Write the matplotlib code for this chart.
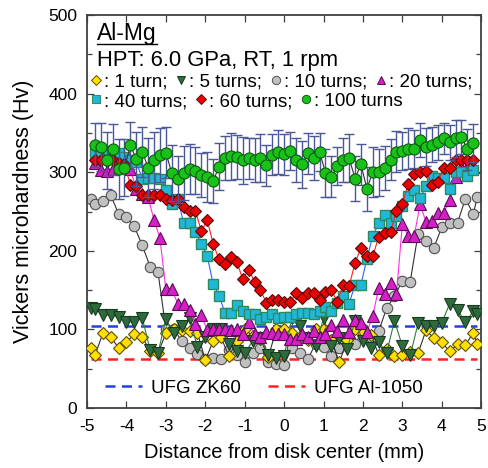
import numpy as np
import matplotlib
matplotlib.use("Agg")
import matplotlib.pyplot as plt
from matplotlib.lines import Line2D

plt.rcParams['font.family'] = ['Liberation Sans', 'DejaVu Sans']
plt.rcParams['axes.unicode_minus'] = False

# Distancias de medida (mm): series largas cada 0.15 mm, series cortas cada 0.2 mm
x_fast = [-4.8, -4.65, -4.5, -4.35, -4.2, -4.05, -3.9, -3.75, -3.6, -3.45,
          -3.3, -3.15, -3.0, -2.85, -2.7, -2.55, -2.4, -2.25, -2.1, -1.95,
          -1.8, -1.65, -1.5, -1.35, -1.2, -1.05, -0.9, -0.75, -0.6, -0.45,
          -0.3, -0.15, 0.0, 0.15, 0.3, 0.45, 0.6, 0.75, 0.9, 1.05,
          1.2, 1.35, 1.5, 1.65, 1.8, 1.95, 2.1, 2.25, 2.4, 2.55,
          2.7, 2.85, 3.0, 3.15, 3.3, 3.45, 3.6, 3.75, 3.9, 4.05,
          4.2, 4.35, 4.5, 4.65, 4.8]
x_slow = [-4.9, -4.8, -4.6, -4.4, -4.2, -4.0, -3.8, -3.6, -3.4, -3.2,
          -3.0, -2.8, -2.6, -2.4, -2.2, -2.0, -1.8, -1.6, -1.4, -1.2,
          -1.0, -0.8, -0.6, -0.4, -0.2, 0.0, 0.2, 0.4, 0.6, 0.8,
          1.0, 1.2, 1.4, 1.6, 1.8, 2.0, 2.2, 2.4, 2.6, 2.8,
          3.0, 3.2, 3.4, 3.6, 3.8, 4.0, 4.2, 4.4, 4.6, 4.8, 4.9]

# Dureza Vickers (Hv)
hv_1 = [76, 67, 95, 90, 77, 84, 94, 91, 72, 70,
        95, 100, 99, 98, 96, 61, 85, 90, 66, 85,
        100, 92, 88, 65, 100, 101, 95, 90, 87, 101,
        100, 87, 58, 87, 101, 95, 93, 68, 75, 66,
        67, 71, 70, 99, 89, 84, 72, 81, 80, 96, 82]
hv_5 = [127, 126, 119, 118, 116, 110, 110, 115, 74, 70,
        113, 95, 104, 115, 78, 90, 100, 100, 81, 73,
        70, 85, 89, 68, 64, 66, 115, 104, 89, 79,
        114, 79, 89, 75, 111, 85, 77, 84, 70, 111,
        79, 67, 108, 104, 104, 108, 133, 125, 109, 123, 120]
hv_10 = [266, 260, 263, 271, 247, 243, 231, 207, 180, 173,
         101, 101, 85, 77, 69, 63, 64, 62, 74, 67,
         58, 70, 76, 58, 56, 55, 77, 70, 62, 82,
         78, 66, 76, 85, 81, 100, 90, 98, 127, 142,
         162, 161, 222, 213, 204, 230, 236, 236, 266, 247, 268]
hv_20 = [312, 303, 301, 304, 307, 307, 304, 279, 272, 268,
         239, 216, 151, 151, 133, 133, 125, 107, 118, 99,
         100, 100, 100, 99, 100, 94, 109, 94, 91, 97,
         96, 94, 94, 88, 88, 94, 90, 98, 90, 94,
         106, 98, 112, 97, 112, 108, 97, 117, 153, 145,
         159, 145, 234, 219, 219, 259, 237, 238, 248, 248,
         265, 294, 307, 307, 307]
hv_40 = [325, 324, 327, 326, 324, 319, 316, 313, 292, 293,
         293, 291, 277, 260, 266, 236, 236, 224, 209, 193,
         158, 143, 121, 121, 131, 123, 120, 120, 113, 116,
         120, 115, 116, 116, 120, 121, 121, 120, 124, 128,
         124, 134, 143, 133, 157, 157, 190, 219, 235, 246,
         235, 244, 257, 270, 277, 267, 282, 295, 293, 293,
         279, 300, 300, 295, 303]
hv_60 = [315, 316, 314, 316, 312, 310, 284, 283, 271, 271,
         271, 271, 266, 265, 266, 256, 251, 251, 225, 239,
         209, 189, 183, 192, 186, 164, 176, 161, 150, 134,
         138, 138, 135, 135, 146, 140, 146, 146, 137, 148,
         150, 135, 157, 155, 185, 204, 193, 193, 218, 223,
         224, 251, 260, 285, 298, 300, 302, 284, 287, 306,
         306, 315, 315, 315, 315]
hv_100 = [335, 332, 315, 329, 304, 306, 334, 317, 326, 306,
          315, 322, 325, 299, 291, 299, 304, 302, 297, 294,
          289, 307, 318, 320, 319, 315, 318, 315, 318, 309,
          322, 326, 323, 327, 315, 310, 324, 318, 326, 299,
          294, 308, 315, 318, 292, 310, 279, 300, 300, 305,
          316, 326, 327, 330, 330, 341, 332, 335, 338, 343,
          338, 343, 345, 329, 337]
err_100 = [28, 30, 36, 32, 38, 36, 30, 34, 32, 38,
           36, 34, 32, 36, 30, 34, 32, 30, 28, 32,
           28, 30, 28, 30, 28, 30, 26, 28, 30, 26,
           26, 28, 26, 24, 28, 30, 26, 28, 24, 30,
           26, 24, 28, 30, 28, 26, 28, 32, 30, 28,
           26, 26, 24, 26, 24, 22, 24, 22, 22, 20,
           22, 24, 22, 26, 24]

# Referencias
hv_zk60 = 105
hv_al1050 = 63
ref_span = [-4.9, 4.9]

fig = plt.figure(figsize=(4.89, 4.68), dpi=100)
ax = fig.add_axes([0.178, 0.128, 0.806, 0.840])

# lineas de referencia
ax.plot(ref_span, [hv_zk60] * 2, color='#2040e0', lw=1.8, dashes=(4, 2.6), zorder=1)
ax.plot(ref_span, [hv_al1050] * 2, color='#ff2020', lw=1.8, dashes=(4, 2.6), zorder=1)

ms = 7.5
# 10 turns
ax.plot(x_slow, hv_10, color='#303030', lw=0.8, marker='o', ms=ms,
        mfc='#c0c0c0', mec='#505050', mew=0.8, zorder=2)
# 1 turn
ax.plot(x_slow, hv_1, color='#303030', lw=0.8, marker='D', ms=ms - 1.3,
        mfc='#ffe000', mec='#605000', mew=0.8, zorder=3)
# 5 turns
ax.plot(x_slow, hv_5, color='#2e7d3a', lw=0.8, marker='v', ms=ms + 0.5,
        mfc='#2e6b3c', mec='#1a3a20', mew=0.8, zorder=3)
# 20 turns
ax.plot(x_fast, hv_20, color='#ff30e0', lw=0.8, marker='^', ms=ms + 0.5,
        mfc='#d81ec8', mec='#501050', mew=0.8, zorder=4)
# 40 turns
ax.plot(x_fast, hv_40, color='#3060ff', lw=0.8, marker='s', ms=ms - 0.8,
        mfc='#20b8d8', mec='#2e8a5e', mew=1.0, zorder=5)
# 60 turns
ax.plot(x_fast, hv_60, color='#ff2020', lw=0.8, marker='D', ms=ms - 1.0,
        mfc='#ee0000', mec='#501010', mew=0.8, zorder=6)
# 100 turns
ax.errorbar(x_fast, hv_100, yerr=err_100, fmt='none', ecolor='#4a5898',
            elinewidth=1.0, capsize=3.5, capthick=1.0, zorder=7)
ax.plot(x_fast, hv_100, color='#303030', lw=0.8, marker='o', ms=ms + 0.5,
        mfc='#19c219', mec='#0e5a0e', mew=0.8, zorder=8)

ax.set_xlim(-5, 5)
ax.set_ylim(0, 500)
ax.set_xticks(np.arange(-5, 6, 1))
ax.set_yticks(np.arange(0, 501, 100))
ax.set_yticks(np.arange(50, 500, 100), minor=True)
ax.tick_params(axis='both', which='both', direction='in', top=True, right=True,
               color='#404040')
ax.tick_params(axis='both', which='major', length=5, width=0.9, labelsize=12.5)
ax.tick_params(axis='x', which='major', pad=8)
ax.tick_params(axis='y', which='major', pad=7)
ax.tick_params(axis='both', which='minor', length=3.5, width=0.9)
for s in ax.spines.values():
    s.set_color('#404040')
    s.set_linewidth(1.3)

ax.set_xlabel('Distance from disk center (mm)', fontsize=14.5, labelpad=6)
ax.set_ylabel('Vickers microhardness (Hv)', fontsize=15.5, labelpad=10)

# textos superiores
t_alloy = ax.text(0.025, 0.952, 'Al-Mg', transform=ax.transAxes, fontsize=16.5,
                  ha='left', va='center')
ax.text(0.025, 0.884, 'HPT: 6.0 GPa, RT, 1 rpm', transform=ax.transAxes,
        fontsize=15.8, ha='left', va='center')

def mk(marker, fc, ec, size):
    return Line2D([], [], ls='none', marker=marker, ms=size, mfc=fc, mec=ec, mew=0.7)

row1 = [mk('D', '#ffe000', '#605000', 5), mk('v', '#2e6b3c', '#1a3a20', 6),
        mk('o', '#c0c0c0', '#505050', 6), mk('^', '#d81ec8', '#501050', 6)]
lab1 = [': 1 turn;', ': 5 turns;', ': 10 turns;', ': 20 turns;']
row2 = [mk('s', '#20b8d8', '#2e8a5e', 5.5), mk('D', '#ee0000', '#501010', 5.5),
        mk('o', '#19c219', '#0e5a0e', 6)]
lab2 = [': 40 turns;', ': 60 turns;', ': 100 turns']

kw = dict(frameon=False, fontsize=13.5, handlelength=0.6, handletextpad=0.12,
          columnspacing=0.45, borderpad=0, borderaxespad=0, loc='center left')
leg1 = ax.legend(row1, lab1, ncol=4, bbox_to_anchor=(0.008, 0.83), **kw)
ax.add_artist(leg1)
leg2 = ax.legend(row2, lab2, ncol=3, bbox_to_anchor=(0.008, 0.78), **kw)
ax.add_artist(leg2)

ref_handles = [Line2D([], [], color='#2040e0', lw=1.8, dashes=(4, 2.6)),
               Line2D([], [], color='#ff2020', lw=1.8, dashes=(4, 2.6))]
ax.legend(ref_handles, ['UFG ZK60', 'UFG Al-1050'], ncol=2, frameon=False,
          fontsize=13.5, handlelength=2.0, handletextpad=0.45, columnspacing=1.45,
          borderpad=0, borderaxespad=0, loc='center left',
          bbox_to_anchor=(0.045, 0.051))

# subrayado de "Al-Mg"
fig.canvas.draw()
bb = t_alloy.get_window_extent(fig.canvas.get_renderer())
inv = fig.transFigure.inverted()
(x0, y0), (x1, _) = inv.transform([(bb.x0, bb.y0 + 1.5), (bb.x1, bb.y0 + 1.5)])
fig.add_artist(Line2D([x0, x1], [y0, y0], transform=fig.transFigure,
                      color='black', lw=1.0))

fig.savefig('out.png', dpi=100)
